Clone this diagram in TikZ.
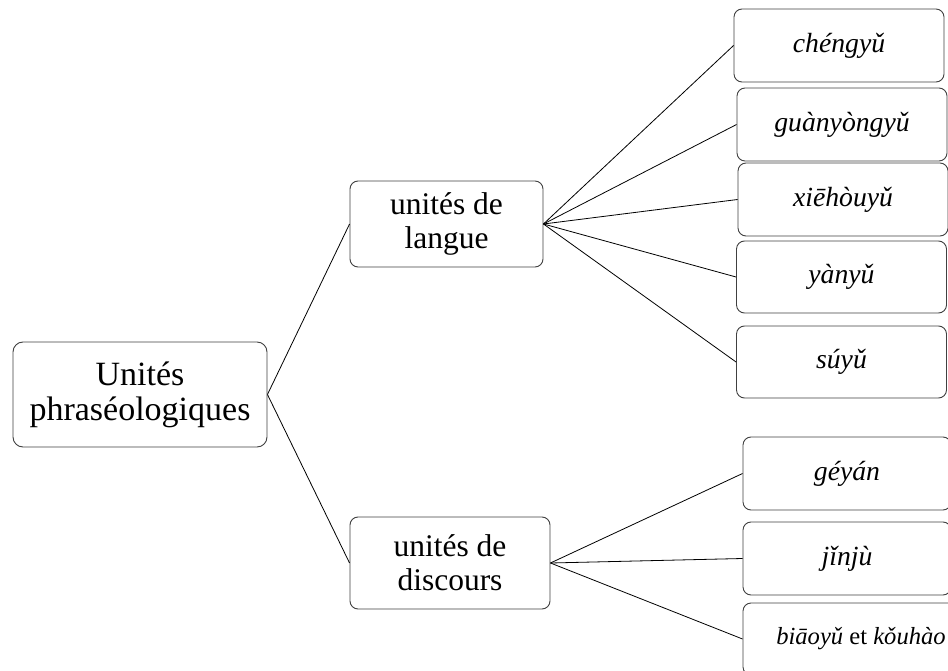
\documentclass[tikz,border=0pt]{standalone}
\usepackage{fontspec}
\setmainfont{Liberation Serif}
\begin{document}
\begin{tikzpicture}[x=1pt,y=-1pt,
  box/.style={draw=black!75, line width=0.9pt, rounded corners=8pt, align=center, inner sep=0pt, fill=white},
  rootbox/.style={box, rounded corners=10pt, minimum width=254pt, minimum height=105pt, font=\fontsize{34}{35}\selectfont},
  midbox/.style={box, font=\fontsize{31.5}{34}\selectfont},
  leafbox/.style={box, minimum width=210pt, minimum height=73pt, font=\fontsize{27.7}{30}\selectfont\itshape},
  conn/.style={draw=black, line width=0.8pt}]
\useasboundingbox (0,0) rectangle (948,671);
\clip (0,0) rectangle (948,671);

\node[rootbox] (root) at (140,394.5) {Unités\\phraséologiques};
\node[midbox, minimum width=193pt, minimum height=86pt] (langue) at (446.5,224) {unités de\\langue};
\node[midbox, minimum width=200pt, minimum height=92pt] (discours) at (450,563) {unités de\\discours};

\node[leafbox] (c1) at (839,45.5) {chéngyǔ};
\node[leafbox] (c2) at (842,124.5) {guànyòngyǔ};
\node[leafbox] (c3) at (843,199.5) {xiēhòuyǔ};
\node[leafbox, minimum height=72pt] (c4) at (841.5,277) {yànyǔ};
\node[leafbox, minimum height=72pt] (c5) at (841.5,362) {súyǔ};

\node[leafbox, minimum width=208pt] (d1) at (847,473.5) {géyán};
\node[leafbox, minimum width=208pt] (d2) at (847,558.5) {jǐnjù};
\node[leafbox, minimum width=236pt, minimum height=72pt, font=\fontsize{24.6}{27}\selectfont\itshape] (d3) at (861,639) {biāoyǔ {\upshape et} kǒuhào};

\draw[conn] (root.east) -- (langue.west);
\draw[conn] (root.east) -- (discours.west);
\foreach \n in {c1,c2,c3,c4,c5} \draw[conn] (langue.east) -- (\n.west);
\foreach \n in {d1,d2,d3} \draw[conn] (discours.east) -- (\n.west);
\end{tikzpicture}
\end{document}
